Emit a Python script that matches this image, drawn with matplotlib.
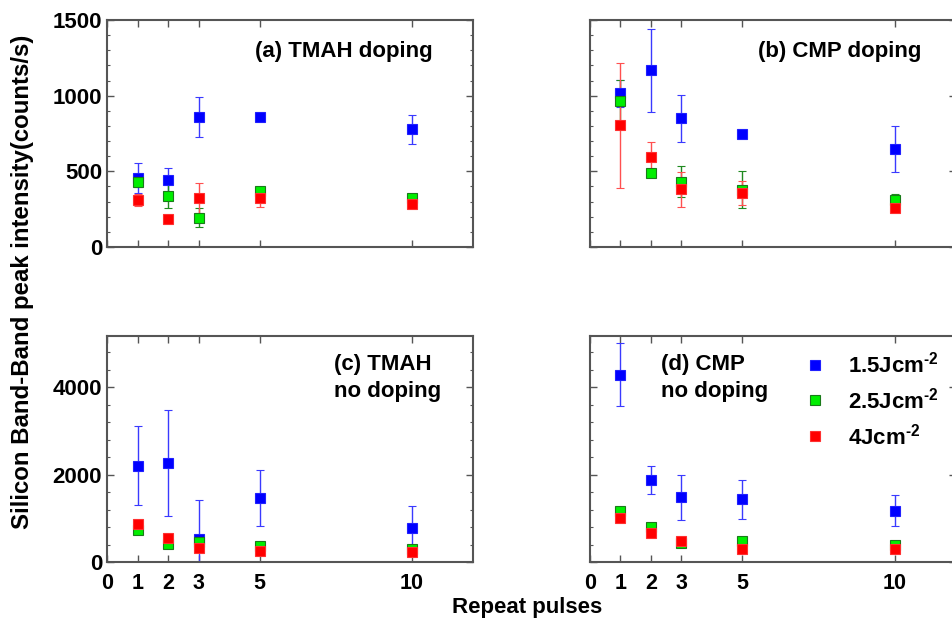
import matplotlib
matplotlib.use("Agg")
import matplotlib.pyplot as plt
from matplotlib.ticker import MultipleLocator
from matplotlib.lines import Line2D

plt.rcParams['font.family'] = ['Liberation Sans', 'DejaVu Sans']
plt.rcParams['font.weight'] = 'bold'
plt.rcParams['mathtext.fontset'] = 'custom'
plt.rcParams['mathtext.rm'] = 'Liberation Sans:bold'
plt.rcParams['mathtext.default'] = 'rm'

pulses = [1, 2, 3, 5, 10]
labels = [r'1.5Jcm$^{\text{-2}}$', r'2.5Jcm$^{\text{-2}}$', r'4Jcm$^{\text{-2}}$']

# (a) TMAH doping
a_blue = [454, 443, 861, 857, 777]
a_blue_err = [100, 80, 132, 25, 95]
a_green = [427, 337, 194, 370, 326]
a_green_err = [30, 80, 65, 20, 15]
a_red = [311, 187, 326, 324, 282]
a_red_err = [42, 10, 100, 62, 10]

# (b) CMP doping
b_blue = [1015, 1167, 852, 749, 648]
b_blue_err = [90, 275, 155, 10, 150]
b_green = [967, 487, 432, 377, 311]
b_green_err = [135, 20, 100, 122, 37]
b_red = [806, 595, 381, 357, 260]
b_red_err = [413, 97, 115, 80, 10]

# (c) TMAH no doping
c_blue = [2203, 2271, 528, 1468, 772]
c_blue_err = [905, 1210, 890, 640, 510]
c_green = [727, 421, 459, 360, 306]
c_green_err = [50, 40, 40, 30, 30]
c_red = [864, 551, 329, 245, 230]
c_red_err = [60, 40, 30, 30, 30]

# (d) CMP no doping
d_blue = [4282, 1878, 1481, 1435, 1168]
d_blue_err = [725, 325, 515, 450, 355]
d_green = [1168, 802, 435, 473, 397]
d_green_err = [90, 75, 30, 30, 30]
d_red = [1015, 672, 473, 298, 298]
d_red_err = [40, 40, 30, 60, 30]

panels = [
    ('(a) TMAH doping', a_blue, a_blue_err, a_green, a_green_err, a_red, a_red_err),
    ('(b) CMP doping', b_blue, b_blue_err, b_green, b_green_err, b_red, b_red_err),
    ('(c) TMAH\nno doping', c_blue, c_blue_err, c_green, c_green_err, c_red, c_red_err),
    ('(d) CMP\nno doping', d_blue, d_blue_err, d_green, d_green_err, d_red, d_red_err),
]

face = ['#0000ff', '#00ee00', '#ff0000']
edge = ['#2020ff', '#1a7a1a', '#ff3030']
ecol = ['#3a3aff', '#208a20', '#ff5050']

fig = plt.figure(figsize=(9.52, 6.21), dpi=100)
w = 0.3845
pos = [(0.1124, 0.6023, w, 0.3655), (0.6197, 0.6023, w, 0.3655),
       (0.1124, 0.0950, w, 0.3640), (0.6197, 0.0950, w, 0.3640)]

for i, (title, *series) in enumerate(panels):
    ax = fig.add_axes(pos[i])
    for k in range(3):
        ax.errorbar(pulses, series[2 * k], yerr=series[2 * k + 1], fmt='s',
                    ms=7.5, mfc=face[k], mec=edge[k], mew=0.8,
                    ecolor=ecol[k], elinewidth=1, capsize=3, capthick=1)
    ax.set_xlim(0, 12)
    ax.set_xticks([0, 1, 2, 3, 5, 10])
    if i < 2:
        ax.set_ylim(0, 1500)
        ax.yaxis.set_major_locator(MultipleLocator(500))
        ax.yaxis.set_minor_locator(MultipleLocator(100))
        ax.tick_params(axis='x', labelbottom=False)
    else:
        ax.set_ylim(0, 5170)
        ax.yaxis.set_major_locator(MultipleLocator(2000))
        ax.yaxis.set_minor_locator(MultipleLocator(400))
    if i % 2 == 1:
        ax.tick_params(axis='y', labelleft=False)
    ax.tick_params(which='both', direction='in', top=True, right=True,
                   labelsize=15.5, color='#555555')
    ax.tick_params(axis='y', labelsize=16)
    ax.tick_params(which='major', length=5, width=1)
    ax.tick_params(which='minor', length=2.5, width=0.8)
    ax.tick_params(axis='x', which='major', pad=8)
    for s in ax.spines.values():
        s.set_color('#555555')
        s.set_linewidth(1.5)
    if i < 2:
        tx = 0.404 if i == 0 else 0.459
        ax.text(tx, 0.86, title, transform=ax.transAxes, fontsize=16,
                fontweight='bold', va='center', ha='left')
    else:
        tx = 0.62 if i == 2 else 0.194
        ax.text(tx, 0.92, title, transform=ax.transAxes, fontsize=16,
                fontweight='bold', va='top', ha='left', linespacing=1.35)
    if i == 3:
        handles = [Line2D([], [], ls='none', marker='s', ms=7.5, mfc=face[k],
                          mec=edge[k], mew=0.8) for k in range(3)]
        ax.legend(handles, labels, loc='upper left', bbox_to_anchor=(0.53, 1.02),
                  frameon=False, fontsize=16, handletextpad=1.0,
                  labelspacing=0.45, handlelength=1.0)

fig.text(0.024, 0.547, 'Silicon Band-Band peak intensity(counts/s)', rotation=90,
         ha='center', va='center', fontsize=17.3, fontweight='bold')
fig.text(0.554, 0.022, 'Repeat pulses', ha='center', va='center',
         fontsize=16, fontweight='bold')

fig.savefig('out.png', dpi=100)
